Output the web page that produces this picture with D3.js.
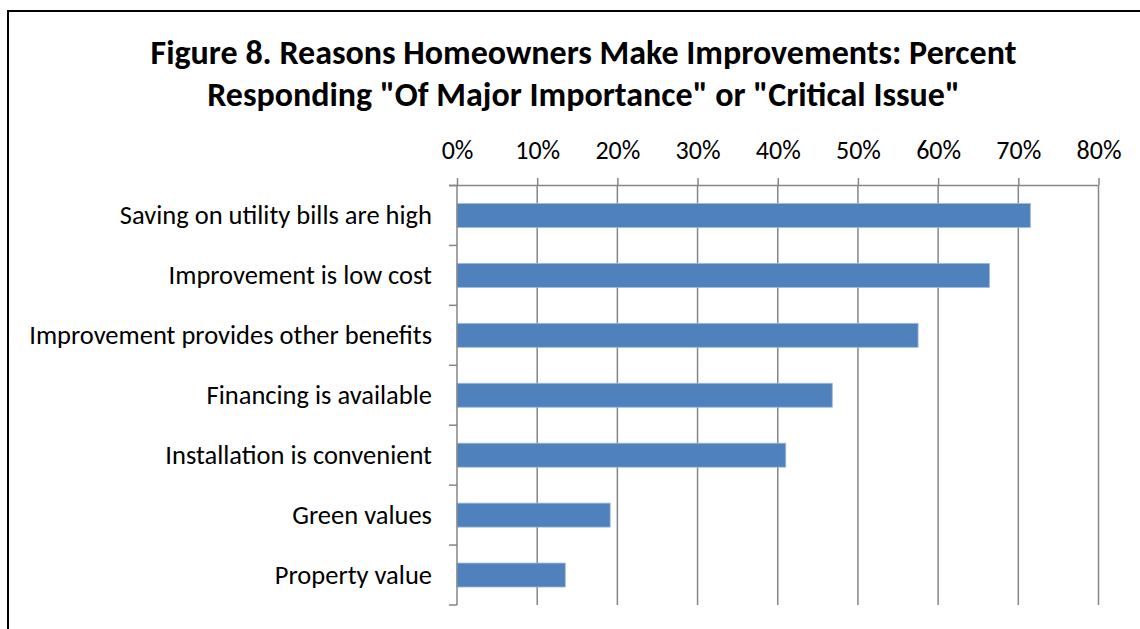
<!DOCTYPE html>
<html>
<head>
<meta charset="utf-8">
<script src="https://cdn.jsdelivr.net/npm/d3@7"></script>
<style>
  html, body { margin: 0; padding: 0; background: #fff; }
  svg { display: block; }
  text { font-family: Carlito, "Open Sans", sans-serif; fill: #000; }
</style>
</head>
<body>
<svg id="chart" width="1140" height="629"></svg>
<script>
// Survey reasons and share responding "Of Major Importance" or "Critical Issue"
const categories = [
  "Saving on utility bills are high",
  "Improvement is low cost",
  "Improvement provides other benefits",
  "Financing is available",
  "Installation is convenient",
  "Green values",
  "Property value"
];
const percents = [0.715, 0.664, 0.575, 0.468, 0.410, 0.191, 0.135];
const tickValues = [0, 0.1, 0.2, 0.3, 0.4, 0.5, 0.6, 0.7, 0.8];
const titleLines = [
  "Figure 8. Reasons Homeowners Make Improvements: Percent",
  "Responding \"Of Major Importance\" or \"Critical Issue\""
];

const svg = d3.select("#chart");
const plot = { left: 457, right: 1098.5, top: 185.5, bottom: 605 };
const axisColor = "#868686";

// Outer frame
svg.append("rect")
  .attr("x", 8).attr("y", 11)
  .attr("width", 1150).attr("height", 640)
  .attr("fill", "none").attr("stroke", "#000").attr("stroke-width", 2);

// Title
svg.append("g").selectAll("text")
  .data(titleLines)
  .join("text")
  .attr("x", 583.5)
  .attr("y", (d, i) => 64 + i * 41.5)
  .attr("text-anchor", "middle")
  .attr("font-size", 34)
  .attr("font-weight", "bold")
  .text(d => d);

const x = d3.scaleLinear().domain([0, 0.8]).range([plot.left, plot.right]);
const y = d3.scaleBand().domain(categories).range([plot.top, plot.bottom])
  .paddingInner(0.6).paddingOuter(0.3);

// Vertical gridlines
svg.append("g").selectAll("line")
  .data(tickValues.slice(1))
  .join("line")
  .attr("x1", d => x(d)).attr("x2", d => x(d))
  .attr("y1", plot.top).attr("y2", plot.bottom)
  .attr("stroke", axisColor).attr("stroke-width", 1.5);

// Bars
svg.append("g").selectAll("rect")
  .data(percents)
  .join("rect")
  .attr("x", x(0))
  .attr("y", (d, i) => y(categories[i]))
  .attr("width", d => x(d) - x(0))
  .attr("height", y.bandwidth())
  .attr("fill", "#4F81BD")
  .attr("stroke", "#9DB8DB")
  .attr("stroke-width", 0.8);

// Top value axis
const xAxis = d3.axisTop(x)
  .tickValues(tickValues)
  .tickFormat(d3.format(".0%"))
  .tickSize(7.5).tickSizeOuter(0).tickPadding(19);
const gx = svg.append("g")
  .attr("transform", `translate(0,${plot.top})`)
  .call(xAxis);
gx.select(".domain").remove();
gx.append("line")
  .attr("x1", plot.left - 8).attr("x2", plot.right)
  .attr("stroke", axisColor).attr("stroke-width", 1.5);
gx.selectAll(".tick line").attr("stroke", axisColor).attr("stroke-width", 1.5);
gx.selectAll(".tick text")
  .attr("font-size", 26)
  .attr("fill", "#000")
  .attr("dy", 0)
  .style("font-family", "Carlito, 'Open Sans', sans-serif");

// Category axis with ticks at band boundaries
const gy = svg.append("g");
gy.append("line")
  .attr("x1", plot.left).attr("x2", plot.left)
  .attr("y1", plot.top).attr("y2", plot.bottom)
  .attr("stroke", axisColor).attr("stroke-width", 1.5);
const step = (plot.bottom - plot.top) / categories.length;
gy.selectAll("line.cat-tick")
  .data(d3.range(categories.length + 1))
  .join("line")
  .attr("class", "cat-tick")
  .attr("x1", plot.left - 8).attr("x2", plot.left)
  .attr("y1", i => plot.top + i * step).attr("y2", i => plot.top + i * step)
  .attr("stroke", axisColor).attr("stroke-width", 1.5);
gy.selectAll("text")
  .data(categories)
  .join("text")
  .attr("x", 432)
  .attr("y", d => y(d) + y.bandwidth() / 2 + 8.5)
  .attr("text-anchor", "end")
  .attr("font-size", 26.5)
  .text(d => d);
</script>
</body>
</html>
